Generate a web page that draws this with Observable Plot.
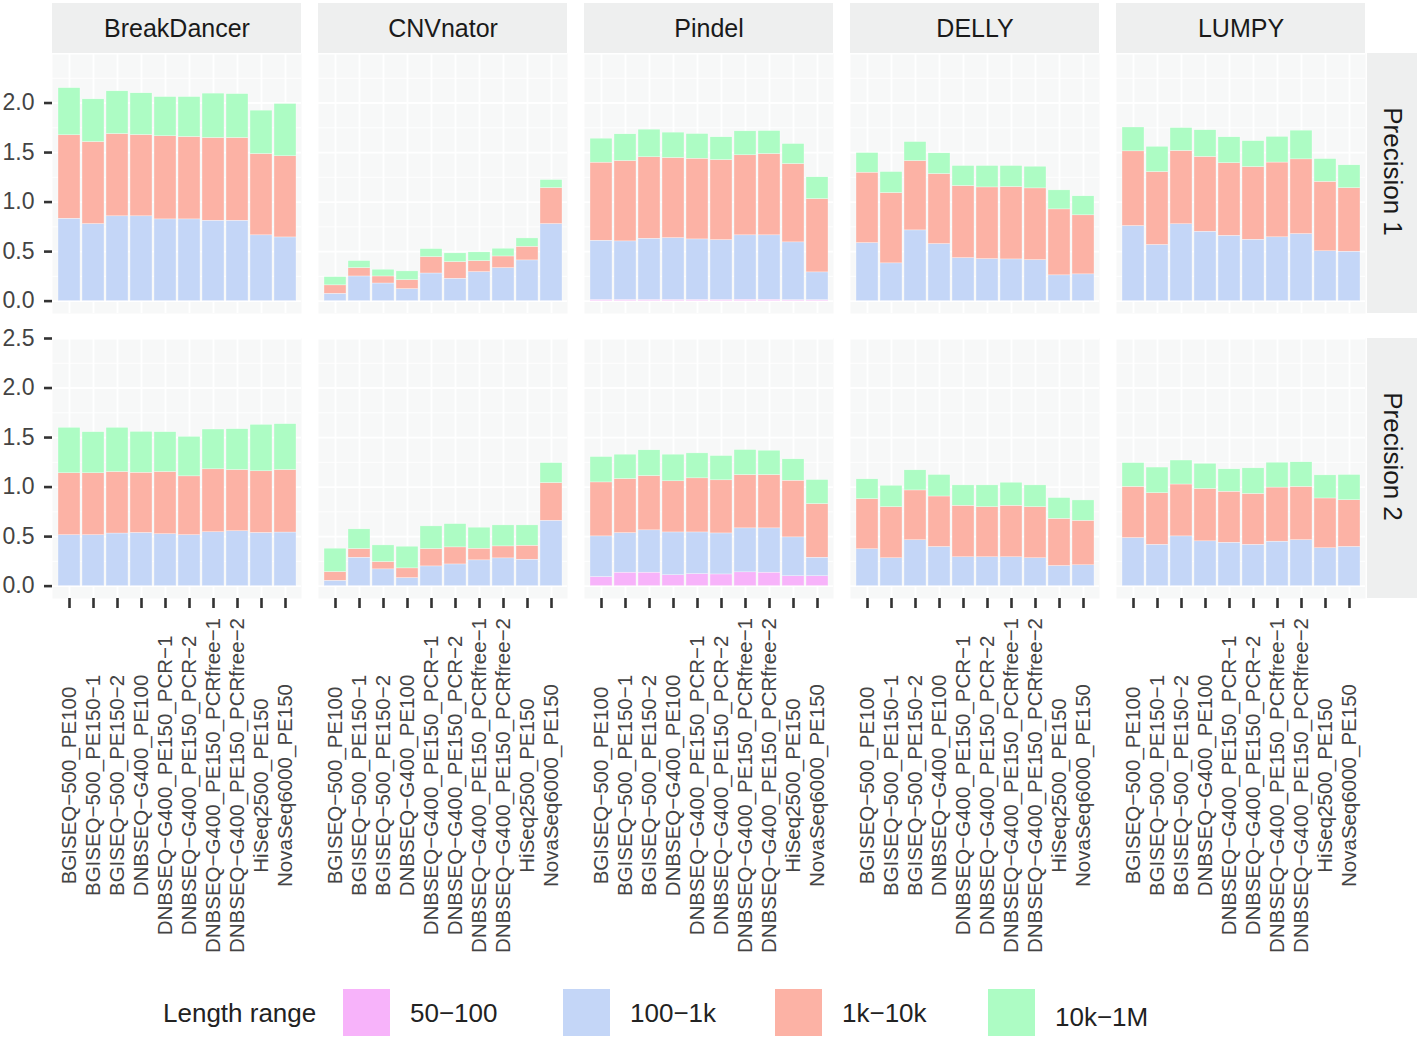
<!DOCTYPE html>
<html>
<head>
<meta charset="utf-8">
<script src="https://cdn.jsdelivr.net/npm/d3@7"></script>
<script src="https://cdn.jsdelivr.net/npm/@observablehq/plot@0.6"></script>
<style>
  html, body { margin: 0; padding: 0; background: #fff; }
  body { width: 1419px; height: 1041px; overflow: hidden; font-family: "Liberation Sans", Arial, Helvetica, sans-serif; }
  #legend { position: relative; width: 1419px; height: 66px; }
  #legend .title, #legend .lab { position: absolute; font-size: 26px; color: #222; line-height: 1; }
  #legend .sw { position: absolute; width: 47px; height: 47px; }
</style>
</head>
<body>
<div id="chart"></div>
<div id="legend"></div>
<script>
// ---------------- data ----------------
const tools = ["BreakDancer", "CNVnator", "Pindel", "DELLY", "LUMPY"];
const precisions = ["Precision 1", "Precision 2"];
const platforms = [
  "BGISEQ\u2212500_PE100", "BGISEQ\u2212500_PE150\u22121", "BGISEQ\u2212500_PE150\u22122",
  "DNBSEQ\u2212G400_PE100", "DNBSEQ\u2212G400_PE150_PCR\u22121", "DNBSEQ\u2212G400_PE150_PCR\u22122",
  "DNBSEQ\u2212G400_PE150_PCRfree\u22121", "DNBSEQ\u2212G400_PE150_PCRfree\u22122",
  "HiSeq2500_PE150", "NovaSeq6000_PE150"
];
const ranges = ["50\u2212100", "100\u22121k", "1k\u221210k", "10k\u22121M"];
const rangeColors = ["#F7B3FA", "#C4D6F7", "#FCB2A5", "#ADFCC4"];
const legendTitle = "Length range";
const yTicksPrecision1 = [0, 0.5, 1, 1.5, 2];
const yTicksPrecision2 = [0, 0.5, 1, 1.5, 2, 2.5];
const gridMajor = [0, 0.5, 1, 1.5, 2, 2.5];
const gridMinor = [0.25, 0.75, 1.25, 1.75, 2.25];

// each: [50−100, 100−1k, 1k−10k, 10k−1M], values per platform
const breakDancerP1 = [
  [0, 0, 0, 0, 0, 0, 0, 0, 0, 0],
  [0.832, 0.778, 0.856, 0.856, 0.825, 0.825, 0.812, 0.812, 0.664, 0.643],
  [0.842, 0.828, 0.831, 0.821, 0.839, 0.832, 0.835, 0.835, 0.821, 0.819],
  [0.476, 0.431, 0.431, 0.421, 0.396, 0.403, 0.448, 0.443, 0.438, 0.528]
];
const breakDancerP2 = [
  [0, 0, 0, 0, 0, 0, 0, 0, 0, 0],
  [0.514, 0.514, 0.531, 0.537, 0.524, 0.514, 0.544, 0.554, 0.537, 0.541],
  [0.625, 0.625, 0.621, 0.608, 0.628, 0.594, 0.635, 0.618, 0.622, 0.631],
  [0.459, 0.415, 0.446, 0.412, 0.402, 0.399, 0.402, 0.412, 0.469, 0.463]
];
const cnvnatorP1 = [
  [0, 0, 0, 0, 0, 0, 0, 0, 0, 0],
  [0.074, 0.249, 0.178, 0.121, 0.279, 0.226, 0.293, 0.333, 0.411, 0.778],
  [0.085, 0.084, 0.071, 0.091, 0.165, 0.168, 0.111, 0.118, 0.138, 0.363],
  [0.083, 0.071, 0.068, 0.088, 0.081, 0.088, 0.088, 0.078, 0.084, 0.081]
];
const cnvnatorP2 = [
  [0, 0, 0, 0, 0, 0, 0, 0, 0, 0],
  [0.054, 0.287, 0.169, 0.081, 0.199, 0.219, 0.260, 0.280, 0.267, 0.660],
  [0.088, 0.087, 0.074, 0.098, 0.175, 0.172, 0.118, 0.121, 0.141, 0.380],
  [0.236, 0.199, 0.168, 0.219, 0.229, 0.235, 0.212, 0.212, 0.205, 0.202]
];
const pindelP1 = [
  [0.012, 0.012, 0.012, 0.012, 0.012, 0.012, 0.014, 0.014, 0.010, 0.010],
  [0.598, 0.591, 0.618, 0.624, 0.611, 0.604, 0.650, 0.650, 0.583, 0.280],
  [0.788, 0.811, 0.822, 0.809, 0.815, 0.808, 0.808, 0.821, 0.791, 0.740],
  [0.242, 0.270, 0.279, 0.256, 0.249, 0.230, 0.242, 0.232, 0.202, 0.220]
];
const pindelP2 = [
  [0.092, 0.136, 0.136, 0.110, 0.122, 0.118, 0.139, 0.136, 0.100, 0.100],
  [0.410, 0.399, 0.427, 0.432, 0.420, 0.414, 0.444, 0.447, 0.392, 0.187],
  [0.545, 0.546, 0.548, 0.516, 0.546, 0.536, 0.538, 0.538, 0.572, 0.541],
  [0.256, 0.246, 0.260, 0.269, 0.252, 0.245, 0.253, 0.246, 0.216, 0.243]
];
const dellyP1 = [
  [0, 0, 0, 0, 0, 0, 0, 0, 0, 0],
  [0.586, 0.381, 0.714, 0.576, 0.434, 0.424, 0.421, 0.414, 0.260, 0.270],
  [0.711, 0.710, 0.700, 0.707, 0.728, 0.724, 0.731, 0.724, 0.666, 0.596],
  [0.198, 0.212, 0.192, 0.209, 0.202, 0.216, 0.212, 0.219, 0.192, 0.192]
];
const dellyP2 = [
  [0, 0, 0, 0, 0, 0, 0, 0, 0, 0],
  [0.372, 0.281, 0.463, 0.395, 0.291, 0.291, 0.291, 0.281, 0.203, 0.210],
  [0.506, 0.516, 0.503, 0.510, 0.520, 0.506, 0.520, 0.516, 0.476, 0.449],
  [0.200, 0.216, 0.203, 0.217, 0.206, 0.220, 0.233, 0.220, 0.210, 0.206]
];
const lumpyP1 = [
  [0, 0, 0, 0, 0, 0, 0, 0, 0, 0],
  [0.758, 0.567, 0.776, 0.701, 0.659, 0.620, 0.644, 0.677, 0.503, 0.499],
  [0.754, 0.736, 0.740, 0.755, 0.733, 0.733, 0.755, 0.754, 0.701, 0.641],
  [0.241, 0.255, 0.231, 0.269, 0.262, 0.262, 0.259, 0.290, 0.230, 0.231]
];
const lumpyP2 = [
  [0, 0, 0, 0, 0, 0, 0, 0, 0, 0],
  [0.485, 0.417, 0.502, 0.452, 0.438, 0.417, 0.449, 0.464, 0.382, 0.396],
  [0.517, 0.521, 0.524, 0.529, 0.515, 0.514, 0.546, 0.538, 0.503, 0.471],
  [0.240, 0.259, 0.242, 0.254, 0.226, 0.258, 0.251, 0.248, 0.233, 0.255]
];

const seriesByTool = {
  "BreakDancer": [breakDancerP1, breakDancerP2],
  "CNVnator": [cnvnatorP1, cnvnatorP2],
  "Pindel": [pindelP1, pindelP2],
  "DELLY": [dellyP1, dellyP2],
  "LUMPY": [lumpyP1, lumpyP2]
};

// ---------------- tables ----------------
const bars = [];
for (const tool of tools) {
  seriesByTool[tool].forEach((matrix, pi) => {
    platforms.forEach((platform, xi) => {
      ranges.forEach((range, ri) => {
        const v = matrix[ri][xi];
        if (v > 0) bars.push({tool, precision: precisions[pi], platform, range, value: v});
      });
    });
  });
}
const yTickRows = [
  ...yTicksPrecision1.map(v => ({tool: tools[0], precision: precisions[0], value: v})),
  ...yTicksPrecision2.map(v => ({tool: tools[0], precision: precisions[1], value: v}))
];
const xTickRows = tools.flatMap(tool => platforms.map(platform => ({tool, precision: precisions[precisions.length - 1], platform})));
const topStrips = tools.map(tool => ({tool, precision: precisions[0]}));
const rightStrips = precisions.map(precision => ({tool: tools[tools.length - 1], precision}));

// ---------------- layout ----------------
const W = 1419, H = 975;
const panelW = 249, gapX = 17, panelH = 260, gapY = 25;
const mLeft = 52, mTop = 53;
const mRight = W - mLeft - (tools.length * panelW + (tools.length - 1) * gapX);
const mBottom = H - mTop - (precisions.length * panelH + (precisions.length - 1) * gapY);
const stripH = 50, stripW = 50;
const panelBg = "#F7F8F8", stripBg = "#EEEFEF";
const font = '"Liberation Sans", Arial, Helvetica, sans-serif';

const chart = Plot.plot({
  width: W,
  height: H,
  marginTop: mTop,
  marginLeft: mLeft,
  marginRight: mRight,
  marginBottom: mBottom,
  style: {fontFamily: font, background: "#fff", overflow: "visible"},
  fx: {domain: tools, paddingInner: gapX / (panelW + gapX), paddingOuter: 0, axis: null},
  fy: {domain: precisions, paddingInner: gapY / (panelH + gapY), paddingOuter: 0, axis: null},
  x: {domain: platforms, paddingInner: 0.1, paddingOuter: 0.15, axis: null},
  y: {domain: [-0.125, 2.5], axis: null},
  color: {domain: ranges, range: rangeColors},
  marks: [
    Plot.frame({fill: panelBg, stroke: "none"}),
    Plot.gridY(gridMinor, {stroke: "#fff", strokeOpacity: 1, strokeWidth: 0.9}),
    Plot.gridY(gridMajor, {stroke: "#fff", strokeOpacity: 1, strokeWidth: 1.8}),
    Plot.gridX(platforms, {stroke: "#fff", strokeOpacity: 1, strokeWidth: 1.8}),
    Plot.barY(bars, {
      fx: "tool", fy: "precision", x: "platform", y: "value", fill: "range", z: "range",
      stroke: "#fff", strokeWidth: 0.4, strokeOpacity: 0.8
    }),
    // top strips
    Plot.rect(topStrips, {fx: "tool", fy: "precision", fill: stripBg, insetTop: -stripH, insetBottom: panelH}),
    Plot.text(topStrips, {fx: "tool", fy: "precision", text: "tool", frameAnchor: "top", lineAnchor: "middle",
      dy: -stripH / 2, fontSize: 25, fill: "#1a1a1a"}),
    // right strips
    Plot.rect(rightStrips, {fx: "tool", fy: "precision", fill: stripBg, insetLeft: panelW + 2, insetRight: -(stripW + 2)}),
    Plot.text(rightStrips, {fx: "tool", fy: "precision", text: "precision", frameAnchor: "right",
      textAnchor: "middle", lineAnchor: "middle",
      dx: 2 + stripW / 2, dy: -12, rotate: 90, fontSize: 26, fill: "#1a1a1a"}),
    // y axis ticks + labels (left column)
    Plot.ruleY(yTickRows, {fx: "tool", fy: "precision", y: "value", insetLeft: -8, insetRight: panelW,
      stroke: "#333", strokeWidth: 2.6}),
    Plot.text(yTickRows, {fx: "tool", fy: "precision", y: "value", text: d => d3.format(".1f")(d.value),
      frameAnchor: "left", dx: -18, textAnchor: "end", fontSize: 23, fill: "#444"}),
    // x axis ticks + labels (bottom row)
    Plot.ruleX(xTickRows, {fx: "tool", fy: "precision", x: "platform", insetTop: panelH, insetBottom: -10,
      stroke: "#333", strokeWidth: 2.6}),
    Plot.text(xTickRows, {fx: "tool", fy: "precision", x: "platform", text: "platform", frameAnchor: "bottom",
      dy: 187, rotate: -90, textAnchor: "middle", lineAnchor: "middle", fontSize: 20.5, fill: "#444"})
  ]
});
document.getElementById("chart").appendChild(chart);

// ---------------- legend ----------------
const legend = d3.select("#legend");
const legendTop = 14;
legend.append("div").attr("class", "title").style("left", "163px").style("top", (legendTop + 11) + "px").text(legendTitle);
const swatchLeft = [343, 563, 775, 988];
ranges.forEach((r, i) => {
  legend.append("div").attr("class", "sw").style("left", swatchLeft[i] + "px").style("top", legendTop + "px")
    .style("background", rangeColors[i]);
  legend.append("div").attr("class", "lab").style("left", (swatchLeft[i] + 67) + "px")
    .style("top", (legendTop + 11 + (i === 3 ? 4 : 0)) + "px").text(r);
});
</script>
</body>
</html>
